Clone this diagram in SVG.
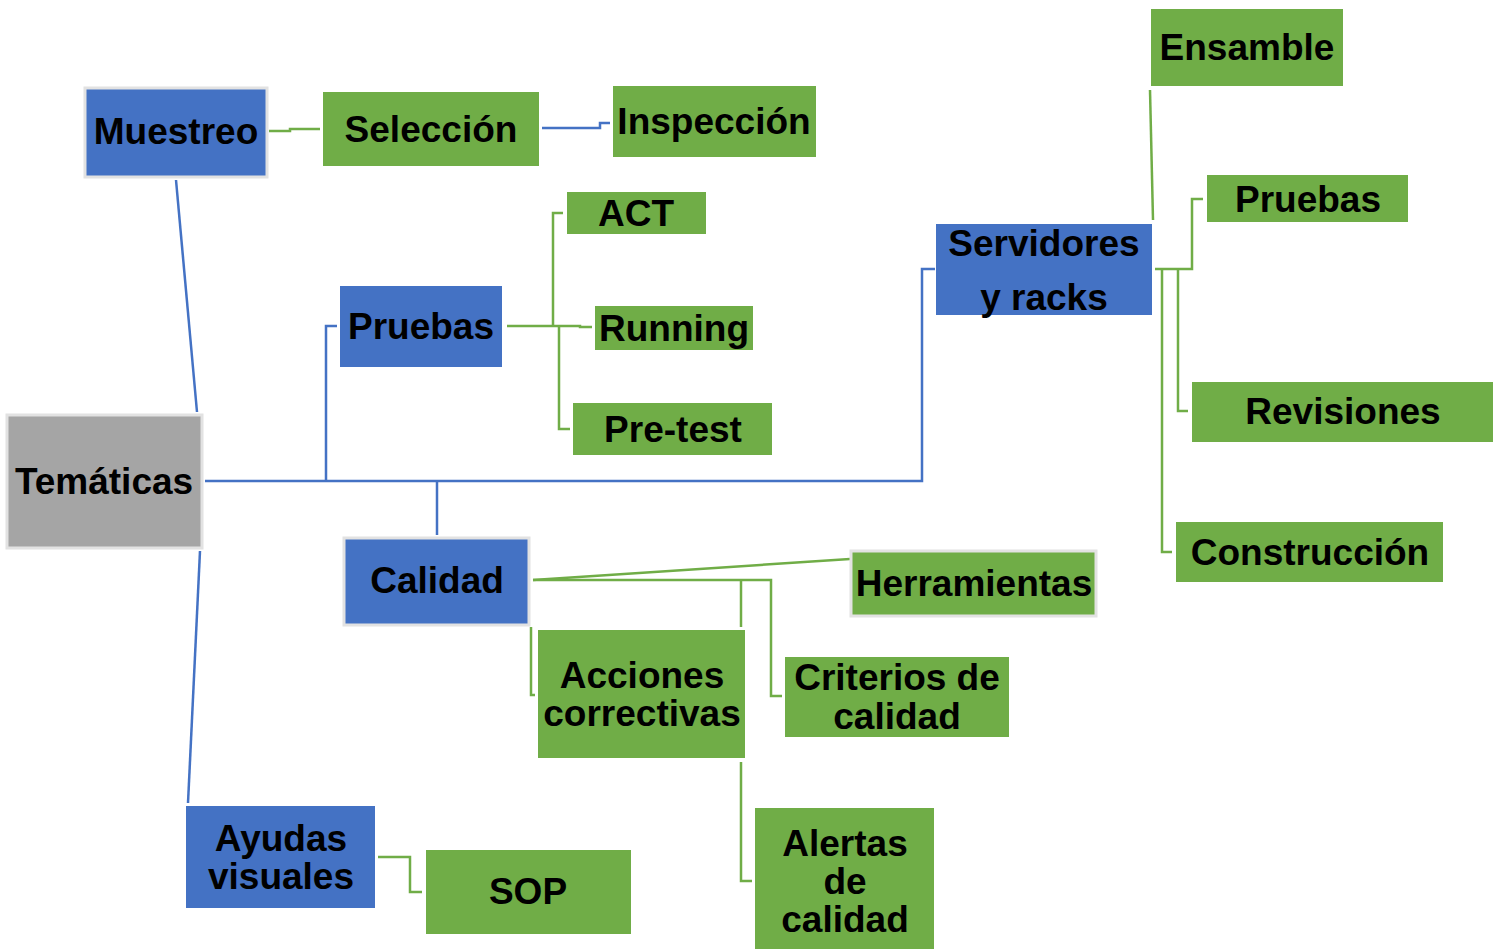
<svg xmlns="http://www.w3.org/2000/svg" width="1500" height="949" viewBox="0 0 1500 949">
<style>
.b{fill:#4472C4}
.g{fill:#70AD47}
.gr{fill:#A5A5A5}
.bd{stroke:#E2E2E2;stroke-width:3}
text{font-family:"Liberation Sans",Arial,sans-serif;font-weight:bold;font-size:37px;fill:#000;text-anchor:middle}
.cb{fill:none;stroke:#4472C4;stroke-width:2.5}
.cg{fill:none;stroke:#70AD47;stroke-width:2.5}
</style>
<rect width="1500" height="949" fill="#fff"/>
<g id="connectors">
<path class="cb" d="M205,481 H922 V269 H935"/>
<path class="cb" d="M326,481 V326 H337"/>
<path class="cb" d="M437,481 V535"/>
<path class="cb" d="M176,180 L197,412"/>
<path class="cb" d="M200,551 L188,803"/>
<path class="cb" d="M542,128 H600 V123 H610"/>
<path class="cg" d="M269,131 H290 V129 H320"/>
<path class="cg" d="M507,326 H580 V327 H592"/>
<path class="cg" d="M553,326 V213 H563"/>
<path class="cg" d="M559,326 V429 H570"/>
<path class="cg" d="M1150,90 L1153,220"/>
<path class="cg" d="M1155,269 H1192 V199 H1203"/>
<path class="cg" d="M1178,269 V411 H1188"/>
<path class="cg" d="M1162,269 V552 H1172"/>
<path class="cg" d="M533,580 L850,559"/>
<path class="cg" d="M533,580 H771 V696 H782"/>
<path class="cg" d="M741,580 V627"/>
<path class="cg" d="M531,627 V695 H535"/>
<path class="cg" d="M741,762 V881 H752"/>
<path class="cg" d="M378,857 H410 V892 H422"/>
</g>
<g id="tematicas"><rect class="gr bd" x="7" y="415" width="195" height="133"/><text x="104" y="494">Temáticas</text></g>
<g id="muestreo"><rect class="b bd" x="85" y="88" width="182" height="89"/><text x="176" y="144">Muestreo</text></g>
<g id="seleccion"><rect class="g" x="323" y="92" width="216" height="74"/><text x="431" y="142">Selección</text></g>
<g id="inspeccion"><rect class="g" x="613" y="86" width="203" height="71"/><text x="714" y="134">Inspección</text></g>
<g id="pruebas"><rect class="b" x="340" y="286" width="162" height="81"/><text x="421" y="339">Pruebas</text></g>
<g id="act"><rect class="g" x="567" y="192" width="139" height="42"/><text x="636" y="226">ACT</text></g>
<g id="running"><rect class="g" x="595" y="306" width="158" height="44"/><text x="674" y="341">Running</text></g>
<g id="pretest"><rect class="g" x="573" y="403" width="199" height="52"/><text x="673" y="442">Pre-test</text></g>
<g id="servidores"><rect class="b" x="936" y="224" width="216" height="91"/><text x="1044" y="256">Servidores</text><text x="1044" y="310">y racks</text></g>
<g id="ensamble"><rect class="g" x="1151" y="9" width="192" height="77"/><text x="1247" y="60">Ensamble</text></g>
<g id="pruebas2"><rect class="g" x="1207" y="175" width="201" height="47"/><text x="1308" y="212">Pruebas</text></g>
<g id="revisiones"><rect class="g" x="1192" y="382" width="301" height="60"/><text x="1343" y="424">Revisiones</text></g>
<g id="construccion"><rect class="g" x="1176" y="522" width="267" height="60"/><text x="1310" y="565">Construcción</text></g>
<g id="calidad"><rect class="b bd" x="344" y="538" width="185" height="87"/><text x="437" y="593">Calidad</text></g>
<g id="herramientas"><rect class="g bd" x="851" y="551" width="245" height="65"/><text x="974" y="596">Herramientas</text></g>
<g id="acciones"><rect class="g" x="538" y="630" width="207" height="128"/><text x="642" y="688">Acciones</text><text x="642" y="726">correctivas</text></g>
<g id="criterios"><rect class="g" x="785" y="657" width="224" height="80"/><text x="897" y="690">Criterios de</text><text x="897" y="729">calidad</text></g>
<g id="alertas"><rect class="g" x="755" y="808" width="179" height="141"/><text x="845" y="856">Alertas</text><text x="845" y="894">de</text><text x="845" y="932">calidad</text></g>
<g id="ayudas"><rect class="b" x="186" y="806" width="189" height="102"/><text x="281" y="851">Ayudas</text><text x="281" y="889">visuales</text></g>
<g id="sop"><rect class="g" x="426" y="850" width="205" height="84"/><text x="528" y="904">SOP</text></g>
</svg>
